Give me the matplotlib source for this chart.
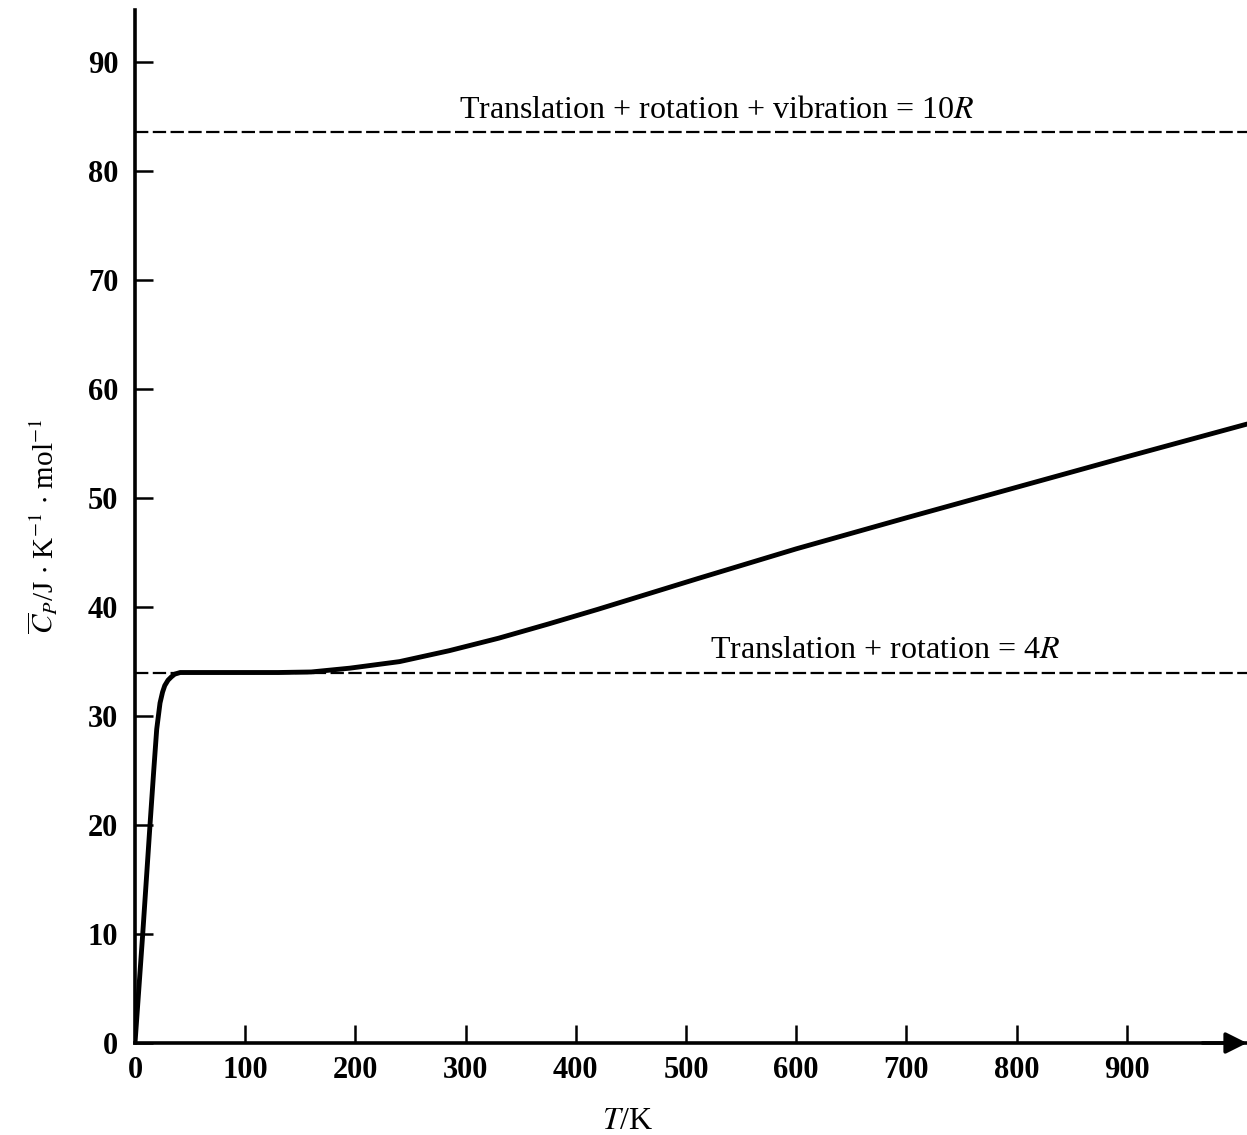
import matplotlib
matplotlib.use("Agg")
import matplotlib.pyplot as plt
import numpy as np

# Data
T = [0, 7, 13.6, 17, 19.7, 22.7, 25, 27, 30, 33, 36, 41, 50, 75, 100, 130, 160,
     195, 240, 285, 330, 375, 420, 465, 510, 600, 700, 800, 900, 1009]
Cp = [0, 10, 20, 25, 28.8, 31.2, 32.2, 32.8, 33.3, 33.6, 33.85, 34.0, 34.0, 34.0,
      34.0, 34.0, 34.05, 34.4, 35.0, 36.0, 37.15, 38.45, 39.8, 41.2, 42.6, 45.35,
      48.2, 51.0, 53.8, 56.8]
limit_values = [83.6, 34.0]
limit_labels = ["Translation + rotation + vibration = 10$R$",
                "Translation + rotation = 4$R$"]
limit_label_x = [528, 681]
xticks = [0, 100, 200, 300, 400, 500, 600, 700, 800, 900]
yticks = [0, 10, 20, 30, 40, 50, 60, 70, 80, 90]

plt.rcParams['font.family'] = ['Liberation Serif', 'DejaVu Serif']
plt.rcParams['mathtext.fontset'] = 'stix'

fig = plt.figure(figsize=(12.47, 11.35), dpi=100)
ax = fig.add_axes([135/1247, (1135-1043)/1135, (1247-135)/1247, (1043-10)/1135])
ax.set_xlim(0, 1009)
ax.set_ylim(0, 94.8)

ax.plot(T, Cp, color='black', lw=3.5, solid_capstyle='round',
        solid_joinstyle='round', zorder=3)
for v in limit_values:
    ax.axhline(v, color='black', lw=1.6, ls=(0, (6, 2)), zorder=2)
for v, lab, lx in zip(limit_values, limit_labels, limit_label_x):
    ax.text(lx, v + 1.3, lab, ha='center', va='baseline', fontsize=23, color='black')

for s in ['top', 'right']:
    ax.spines[s].set_visible(False)
for s in ['left', 'bottom']:
    ax.spines[s].set_linewidth(2.6)

ax.set_xticks(xticks)
ax.set_yticks(yticks)
ax.tick_params(axis='both', direction='in', length=13, width=1.8, labelsize=22)
ax.tick_params(axis='y', pad=12)
ax.tick_params(axis='x', pad=9)
for lab in ax.get_xticklabels() + ax.get_yticklabels():
    lab.set_fontweight('bold')

# arrow at end of x-axis
ax.annotate('', xy=(1.0, 0), xytext=(0.96, 0), xycoords='axes fraction',
            arrowprops=dict(arrowstyle='-|>', mutation_scale=32, color='black',
                            lw=2.6, shrinkA=0, shrinkB=0), annotation_clip=False)

ax.set_xlabel('$T$/K', fontsize=23)
ax.xaxis.set_label_coords((628 - 135) / 1112, -0.062)
ax.set_ylabel(r'$\overline{C}_P$/J $\cdot$ K$^{-1}$ $\cdot$ mol$^{-1}$', fontsize=21, labelpad=20)

fig.savefig('out.png', dpi=100)
